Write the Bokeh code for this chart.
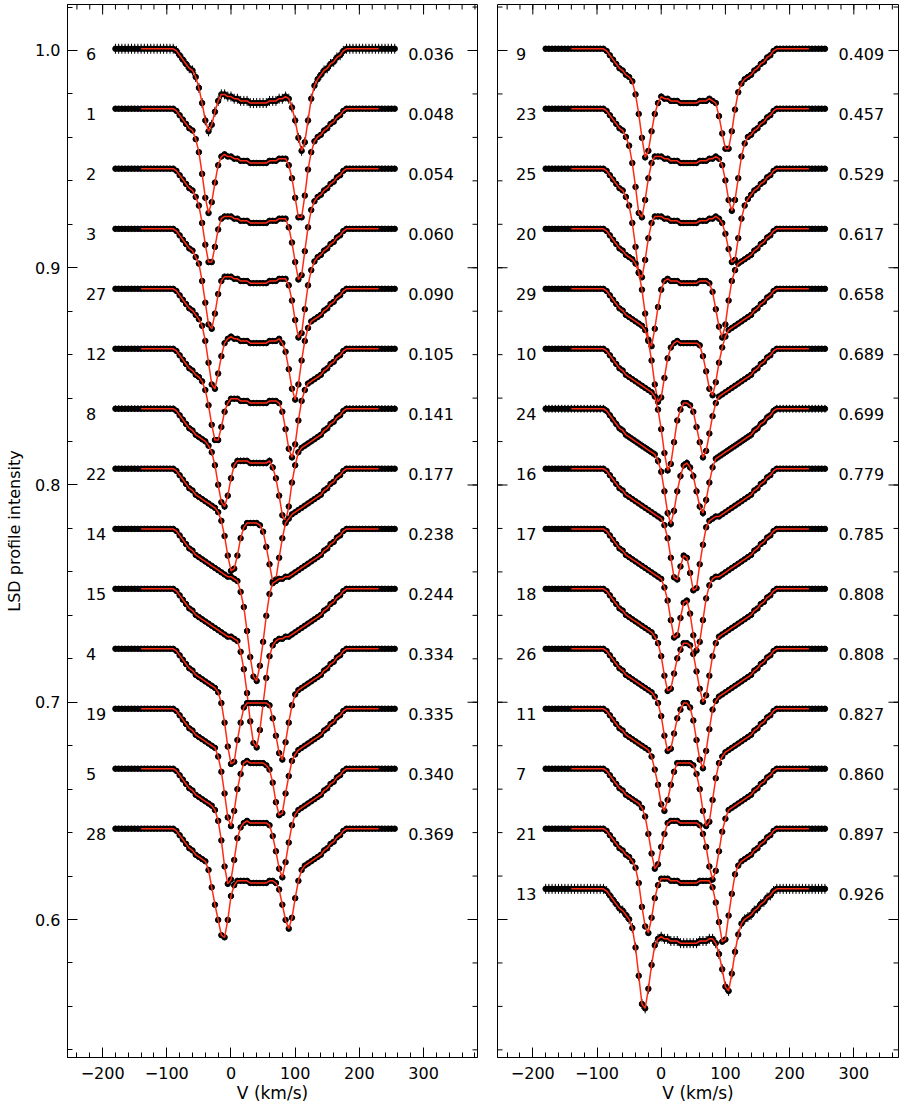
import numpy as np
from bokeh.plotting import figure
from bokeh.models import Range1d, FixedTicker, PrintfTickFormatter
from bokeh.layouts import row
from bokeh.embed import file_html
from bokeh.resources import INLINE
from bokeh.core.properties import value

# ---------------- data (depth below continuum, units of 0.001, v = -90..180 step 5) -------------
v_inner = list(range(-90, 181, 5))
v_blue_cont = list(range(-180, -89, 5))[:-1]   # -180 .. -95 (continuum)
v_red_cont = list(range(185, 256, 5))          # 185 .. 255 (continuum)

d6 = [0,1,3,5,7,9,10,13,18,25,33, 38,35,29,24,21,21,22,22,23,23, 24,24,24,25,25,25,25,25,25,24, 24,24,23,23,22,23,27,33,41,47, 43,33,23,17,14,12,10,9,7,6, 4,3,1,0]
d1 = [0,1,3,5,7,9,10,14,20,30,41, 48,43,34,26,22,21,22,22,23,23, 24,24,24,25,25,25,25,25,25,24, 24,24,23,23,23,26,32,41,50,50, 40,28,20,15,13,12,10,9,7,6, 4,3,1,0]
d2 = [0,1,3,5,7,9,10,13,17,25,35, 43,43,36,28,23,22,22,22,23,23, 24,24,24,25,25,25,25,25,25,24, 24,24,23,23,23,27,34,43,51,49, 38,27,19,15,13,12,10,9,7,6, 4,3,1,0]
d3 = [0,1,3,5,7,9,10,13,16,24,34, 44,46,39,30,24,22,22,22,23,23, 24,24,24,25,25,25,25,25,25,24, 24,24,23,23,23,26,33,42,50,48, 37,26,19,15,13,12,10,9,7,6, 4,3,1,0]
d27 = [0,1,3,5,7,9,10,12,14,17,24, 34,44,46,39,31,25,23,22,23,23, 24,24,24,25,25,25,25,25,25,24, 24,24,23,25,29,37,46,51,44,33, 24,18,15,14,13,12,10,9,7,6, 4,3,1,0]
d12 = [0,1,3,5,7,9,10,12,13,15,19, 26,35,42,42,36,29,25,23,23,23, 24,24,24,25,25,25,25,25,25,24, 24,24,25,29,37,46,50,44,33,24, 19,16,15,14,13,12,10,9,7,6, 4,3,1,0]
d8 = [0,1,3,5,7,9,10,12,13,14,15, 17,20,26,35,43,45,40,32,26,24, 24,24,24,25,25,25,25,25,25,24, 27,32,40,49,52,45,34,26,20,18, 17,16,15,14,13,12,10,9,7,6, 4,3,1,0]
d22 = [0,1,3,5,7,9,10,12,13,14,15, 16,17,18,20,24,31,40,47,46,40, 32,27,25,25,25,25,26,29,36,44, 52,51,41,32,25,23,21,20,19,18, 17,16,15,14,13,12,10,9,7,6, 4,3,1,0]
d14 = [0,1,3,5,7,9,10,12,13,14,15, 16,17,18,19,20,21,22,22,23,24, 29,36,47,59,68,70,63,52,40,30, 25,24,23,23,22,22,21,20,19,18, 17,16,15,14,13,12,10,9,7,6, 4,3,1,0]
d15 = [0,1,3,5,7,9,10,12,13,14,15, 16,17,18,19,20,21,22,22,23,24, 29,37,48,61,71,73,65,53,41,31, 26,24,23,23,22,22,21,20,19,18, 17,16,15,14,13,12,10,9,7,6, 4,3,1,0]
d4 = [0,1,3,5,7,9,10,12,13,14,15, 16,17,18,20,25,34,45,53,52,42, 34,27,25,25,25,25,25,25,25,26, 32,40,48,51,43,34,26,21,19,18, 17,16,15,14,13,12,10,9,7,6, 4,3,1,0]
d19 = [0,1,3,5,7,9,10,12,13,14,15, 16,17,18,22,29,39,50,54,47,37, 30,25,24,25,25,25,25,25,26,28, 34,43,49,48,39,31,24,21,19,18, 17,16,15,14,13,12,10,9,7,6, 4,3,1,0]
d5 = [0,1,3,5,7,9,10,12,13,14,15, 16,17,19,24,33,45,53,51,42,32, 27,25,24,25,25,25,25,25,25,26, 31,38,46,50,43,34,26,21,19,18, 17,16,15,14,13,12,10,9,7,6, 4,3,1,0]
d28 = [0,1,3,5,7,9,10,12,13,14,15, 19,27,35,42,49,50,42,31,26,24, 24,24,24,25,25,25,25,25,25,24, 24,25,28,35,42,46,41,32,24,19, 17,16,15,14,13,12,10,9,7,6, 4,3,1,0]

d9 = [0,1,3,5,7,9,10,12,13,15,21, 30,41,50,47,38,30,25,22,23,23, 24,24,24,25,25,25,25,25,25,24, 24,24,23,24,25,31,39,46,46,38, 28,20,16,14,13,12,10,9,7,6, 4,3,1,0]
d23 = [0,1,3,5,7,9,10,13,17,25,36, 48,50,42,32,25,22,22,22,23,23, 24,24,24,25,25,25,25,25,25,24, 24,24,23,23,22,23,26,33,42,47, 42,32,22,16,13,12,10,9,7,6, 4,3,1,0]
d25 = [0,1,3,5,7,9,10,13,17,25,36, 48,50,42,32,25,22,22,22,23,23, 24,24,24,25,25,25,25,25,25,24, 24,24,23,23,22,23,25,30,37,43, 42,32,23,17,14,12,10,9,7,6, 4,3,1,0]
d20 = [0,1,3,5,7,9,10,12,13,14,16, 20,28,39,51,54,46,36,28,24,23, 24,24,24,25,25,25,25,25,25,24, 24,24,25,29,37,45,50,44,33,24, 19,16,15,14,13,12,10,9,7,6, 4,3,1,0]
d29 = [0,1,3,5,7,9,10,12,13,14,15, 16,17,19,24,33,44,52,50,41,32, 27,25,24,25,25,25,25,25,25,26, 31,38,46,49,43,34,27,22,19,18, 17,16,15,14,13,12,10,9,7,6, 4,3,1,0]
d10 = [0,1,3,5,7,9,10,12,13,14,15, 16,17,18,19,20,22,28,37,48,56, 53,43,33,28,25,25,26,29,36,43, 50,47,39,31,25,22,21,20,19,18, 17,16,15,14,13,12,10,9,7,6, 4,3,1,0]
d24 = [0,1,3,5,7,9,10,12,13,14,15, 16,17,18,19,20,21,24,29,38,48, 53,47,38,31,26,25,27,31,38,45, 48,42,34,27,23,22,21,20,19,18, 17,16,15,14,13,12,10,9,7,6, 4,3,1,0]
d16 = [0,1,3,5,7,9,10,12,13,14,15, 16,17,18,19,20,21,22,23,26,32, 41,50,51,45,40,41,48,56,55,44, 35,27,24,23,22,22,21,20,19,18, 17,16,15,14,13,12,10,9,7,6, 4,3,1,0]
d17 = [0,1,3,5,7,9,10,12,13,14,15, 16,17,18,19,20,21,22,23,27,33, 42,50,49,41,34,33,39,49,56,52, 42,32,26,23,22,22,21,20,19,18, 17,16,15,14,13,12,10,9,7,6, 4,3,1,0]
d18 = [0,1,3,5,7,9,10,12,13,14,15, 16,17,18,19,20,22,25,31,40,47, 46,39,32,28,25,25,26,30,38,46, 52,49,40,31,25,22,21,20,19,18, 17,16,15,14,13,12,10,9,7,6, 4,3,1,0]
d26 = [0,1,3,5,7,9,10,12,13,14,15, 16,17,18,19,20,22,25,31,40,47, 46,39,32,28,25,25,27,33,42,51, 55,47,37,28,24,22,21,20,19,18, 17,16,15,14,13,12,10,9,7,6, 4,3,1,0]
d11 = [0,1,3,5,7,9,10,12,13,14,15, 16,17,18,19,22,28,35,44,47,42, 35,29,25,25,25,25,25,26,30,37, 47,54,52,42,32,25,22,20,19,18, 17,16,15,14,13,12,10,9,7,6, 4,3,1,0]
d7 = [0,1,3,5,7,9,10,12,13,14,15, 16,18,22,30,39,46,44,36,30,25, 24,24,24,25,25,25,25,25,25,26, 30,36,45,51,47,38,29,23,19,18, 17,16,15,14,13,12,10,9,7,6, 4,3,1,0]
d21 = [0,1,3,5,7,9,10,12,13,15,18, 25,36,45,48,41,32,26,23,23,23, 24,24,24,25,25,25,25,25,25,24, 24,24,24,27,34,43,52,51,40,30, 21,17,15,14,13,12,10,9,7,6, 4,3,1,0]
d13 = [0,1,3,5,7,9,10,12,14,18,27, 40,53,55,46,35,26,23,22,23,23, 24,24,24,25,25,25,25,25,25,24, 24,24,23,23,25,30,37,45,47,39, 29,21,16,14,13,12,10,9,7,6, 4,3,1,0]

left_ids = ["6", "1", "2", "3", "27", "12", "8", "22", "14", "15", "4", "19", "5", "28"]
left_phases = ["0.036", "0.048", "0.054", "0.060", "0.090", "0.105", "0.141",
               "0.177", "0.238", "0.244", "0.334", "0.335", "0.340", "0.369"]
left_depths = [d6, d1, d2, d3, d27, d12, d8, d22, d14, d15, d4, d19, d5, d28]
left_levels = [1.0008, 0.9732, 0.9456, 0.9179, 0.8903, 0.8627, 0.8351,
               0.8075, 0.7798, 0.7522, 0.7246, 0.6970, 0.6694, 0.6418]
left_err = [2.3, 1.3, 1.3, 1.3, 1.3, 1.3, 1.5, 1.3, 1.3, 1.3, 1.3, 1.3, 1.3, 1.3]

right_ids = ["9", "23", "25", "20", "29", "10", "24", "16", "17", "18", "26", "11", "7", "21", "13"]
right_phases = ["0.409", "0.457", "0.529", "0.617", "0.658", "0.689", "0.699", "0.779",
                "0.785", "0.808", "0.808", "0.827", "0.860", "0.897", "0.926"]
right_depths = [d9, d23, d25, d20, d29, d10, d24, d16, d17, d18, d26, d11, d7, d21, d13]
right_levels = [1.0008, 0.9732, 0.9456, 0.9179, 0.8903, 0.8627, 0.8351, 0.8075,
                0.7798, 0.7522, 0.7246, 0.6970, 0.6694, 0.6418, 0.6141]
right_err = [1.3, 1.3, 1.3, 1.3, 1.3, 1.3, 1.8, 1.3, 1.3, 1.3, 1.3, 1.3, 1.3, 1.3, 2.3]

x_major = [-200, -100, 0, 100, 200, 300]
x_minor = list(range(-240, 381, 20))
x_labels = {-200: "\u2212200", -100: "\u2212100", 0: "0", 100: "100", 200: "200", 300: "300"}
y_major = [0.6, 0.7, 0.8, 0.9, 1.0]
y_minor = [round(0.54 + 0.02 * k, 2) for k in range(25)]

FONT = "DejaVu Sans"
FS = "16px"
FS_TITLE = "17px"
Y0, Y1 = 0.53648, 1.02117
FIG_H = 1106
PX_PER_Y = 2172.5      # screen px per intensity unit
PX_PER_V = 0.642       # screen px per km/s


def style_axis(ax):
    ax.axis_line_color = "black"
    ax.major_tick_line_color = "black"
    ax.minor_tick_line_color = "black"
    ax.major_tick_in = 10
    ax.major_tick_out = 0
    ax.minor_tick_in = 5
    ax.minor_tick_out = 0
    ax.major_label_text_font = FONT
    ax.major_label_text_font_size = FS
    ax.major_label_text_color = "black"


def make_panel(ids, phases, depths, levels, errs, xr, width, border_left, border_right, ylab):
    p = figure(width=width, height=FIG_H, x_range=Range1d(*xr), y_range=Range1d(Y0, Y1),
               output_backend="svg", toolbar_location=None,
               min_border_left=border_left, min_border_right=border_right,
               min_border_top=4, min_border_bottom=FIG_H - 1057)
    p.xgrid.visible = False
    p.ygrid.visible = False
    p.outline_line_color = "black"
    p.outline_line_width = 1
    p.background_fill_color = "white"
    p.border_fill_color = "white"

    xa = p.xaxis[0]
    xa.ticker = FixedTicker(ticks=x_major, minor_ticks=x_minor)
    xa.major_label_overrides = x_labels
    style_axis(xa)
    xa.major_label_standoff = 9
    xa.axis_label = "V (km/s)"
    xa.axis_label_text_font = FONT
    xa.axis_label_text_font_size = FS_TITLE
    xa.axis_label_text_font_style = "normal"
    xa.axis_label_text_color = "black"
    xa.axis_label_standoff = 1

    ya = p.yaxis[0]
    if ylab:
        ya.ticker = FixedTicker(ticks=y_major, minor_ticks=y_minor)
        ya.formatter = PrintfTickFormatter(format="%.1f")
        style_axis(ya)
        ya.major_label_standoff = 7
        ya.axis_label = "LSD profile intensity"
        ya.axis_label_text_font = FONT
        ya.axis_label_text_font_size = "16px"
        ya.axis_label_text_font_style = "normal"
        ya.axis_label_text_color = "black"
        ya.axis_label_standoff = 8
    else:
        ya.visible = False

    # box ticks on the sides that carry no labels (top, right, and left of panel 2)
    tx_maj = 10.0 / PX_PER_Y
    tx_min = 5.0 / PX_PER_Y
    ty_maj = 10.0 / PX_PER_V
    ty_min = 5.0 / PX_PER_V
    tops = x_major + x_minor
    tlen = [tx_maj] * len(x_major) + [tx_min] * len(x_minor)
    p.segment(x0=tops, y0=[Y1] * len(tops), x1=tops, y1=[Y1 - t for t in tlen],
              line_color="black", line_width=1)
    ys = y_major + y_minor
    ylen = [ty_maj] * len(y_major) + [ty_min] * len(y_minor)
    p.segment(x0=[xr[1]] * len(ys), y0=ys, x1=[xr[1] - t for t in ylen], y1=ys,
              line_color="black", line_width=1)
    if not ylab:
        p.segment(x0=[xr[0]] * len(ys), y0=ys, x1=[xr[0] + t for t in ylen], y1=ys,
                  line_color="black", line_width=1)

    for dep, lev, err in zip(depths, levels, errs):
        full = [0] * len(v_blue_cont) + dep + [0] * len(v_red_cont)
        vel = v_blue_cont + v_inner + v_red_cont
        y = [lev - d / 1000.0 for d in full]
        e = err / 1000.0
        p.segment(x0=vel, y0=[yy - e for yy in y], x1=vel, y1=[yy + e for yy in y],
                  line_color="black", line_width=1)
        p.scatter(x=vel, y=y, size=5.5, fill_color="black", line_color="black")
        mv = [vv for vv in vel if -140 <= vv <= 230]
        my = [yy for vv, yy in zip(vel, y) if -140 <= vv <= 230]
        p.line(x=mv, y=my, line_color="#ff2a12", line_width=1.5)

    p.text(x=[-226] * len(ids), y=[lv - 0.0025 for lv in levels], text=ids,
           text_font=value(FONT), text_font_size=value(FS),
           text_align="left", text_baseline="middle", text_color="black")
    p.text(x=[276] * len(phases), y=[lv - 0.0025 for lv in levels], text=phases,
           text_font=value(FONT), text_font_size=value(FS),
           text_align="left", text_baseline="middle", text_color="black")
    return p


p1 = make_panel(left_ids, left_phases, left_depths, left_levels, left_err,
                (-254.7, 384.0), 487, 67, 10, True)
p2 = make_panel(right_ids, right_phases, right_depths, right_levels, right_err,
                (-255.0, 369.6), 412, 10, 1, False)

layout = row(p1, p2)
open("out.html", "w").write(file_html(layout, INLINE))
